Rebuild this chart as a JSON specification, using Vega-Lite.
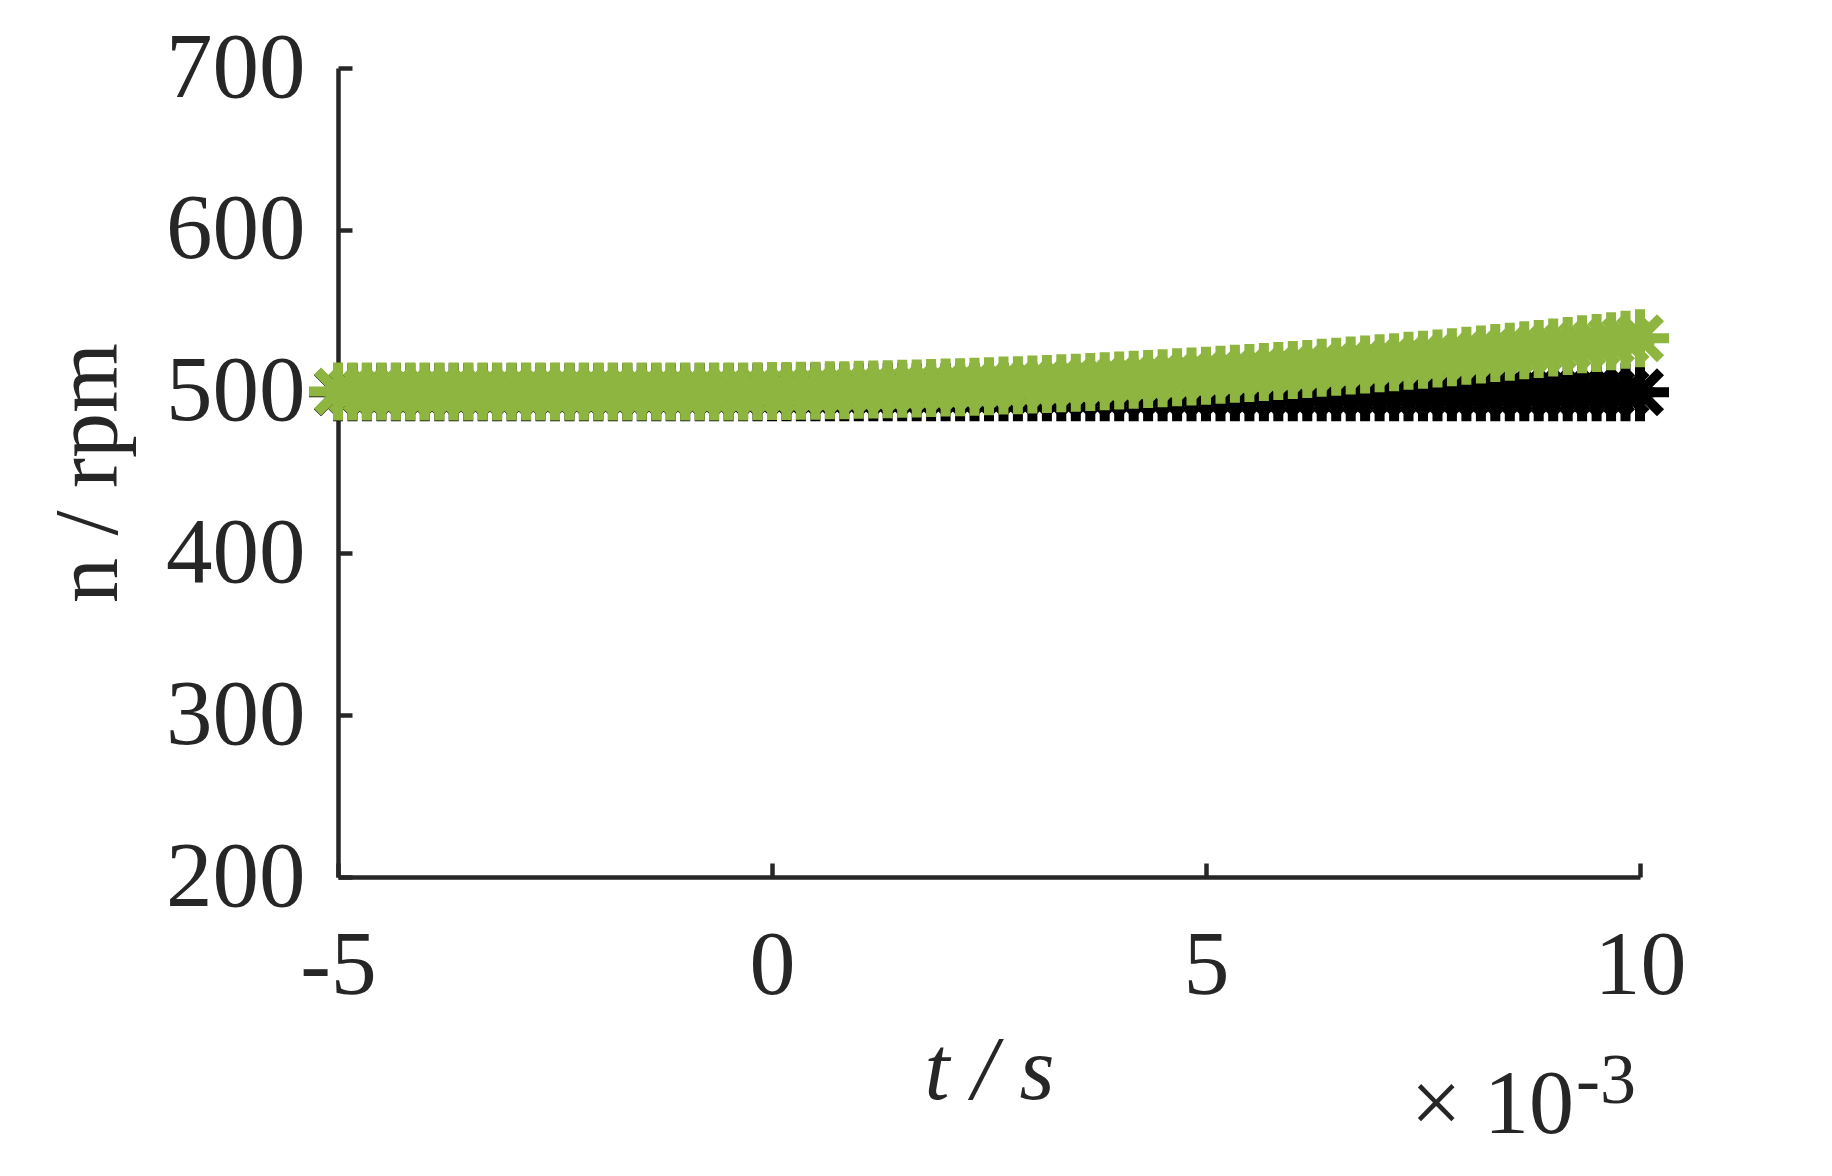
{
  "$schema": "https://vega.github.io/schema/vega-lite/v6.json",
  "width": 1302,
  "height": 809,
  "autosize": {"type": "none"},
  "padding": {"left": 338, "top": 68, "right": 192, "bottom": 299},
  "background": "white",
  "config": {"view": {"stroke": null}},
  "layer": [
    {
      "data": {"name": "speed", "values": [
        {"t": -5, "green": 500.0, "black": 499.6},
        {"t": -4.833, "green": 500.0, "black": 499.6},
        {"t": -4.667, "green": 500.0, "black": 499.6},
        {"t": -4.5, "green": 500.0, "black": 499.6},
        {"t": -4.333, "green": 500.0, "black": 499.6},
        {"t": -4.167, "green": 500.0, "black": 499.6},
        {"t": -4, "green": 500.0, "black": 499.6},
        {"t": -3.833, "green": 500.0, "black": 499.6},
        {"t": -3.667, "green": 500.0, "black": 499.6},
        {"t": -3.5, "green": 500.0, "black": 499.6},
        {"t": -3.333, "green": 500.0, "black": 499.6},
        {"t": -3.167, "green": 500.0, "black": 499.6},
        {"t": -3, "green": 500.0, "black": 499.6},
        {"t": -2.833, "green": 500.0, "black": 499.6},
        {"t": -2.667, "green": 500.0, "black": 499.6},
        {"t": -2.5, "green": 500.0, "black": 499.6},
        {"t": -2.333, "green": 500.0, "black": 499.6},
        {"t": -2.167, "green": 500.0, "black": 499.6},
        {"t": -2, "green": 500.0, "black": 499.6},
        {"t": -1.833, "green": 500.0, "black": 499.6},
        {"t": -1.667, "green": 500.0, "black": 499.6},
        {"t": -1.5, "green": 500.0, "black": 499.6},
        {"t": -1.333, "green": 500.0, "black": 499.6},
        {"t": -1.167, "green": 500.0, "black": 499.6},
        {"t": -1, "green": 500.0, "black": 499.6},
        {"t": -0.833, "green": 500.0, "black": 499.6},
        {"t": -0.667, "green": 500.0, "black": 499.6},
        {"t": -0.5, "green": 500.1, "black": 499.6},
        {"t": -0.333, "green": 500.1, "black": 499.6},
        {"t": -0.167, "green": 500.2, "black": 499.6},
        {"t": 0, "green": 500.3, "black": 499.6},
        {"t": 0.167, "green": 500.4, "black": 499.6},
        {"t": 0.333, "green": 500.5, "black": 499.6},
        {"t": 0.5, "green": 500.6, "black": 499.6},
        {"t": 0.667, "green": 500.8, "black": 499.6},
        {"t": 0.833, "green": 500.9, "black": 499.6},
        {"t": 1, "green": 501.1, "black": 499.6},
        {"t": 1.167, "green": 501.3, "black": 499.6},
        {"t": 1.333, "green": 501.5, "black": 499.6},
        {"t": 1.5, "green": 501.7, "black": 499.6},
        {"t": 1.667, "green": 501.9, "black": 499.6},
        {"t": 1.833, "green": 502.2, "black": 499.6},
        {"t": 2, "green": 502.5, "black": 499.6},
        {"t": 2.167, "green": 502.7, "black": 499.6},
        {"t": 2.333, "green": 503.0, "black": 499.6},
        {"t": 2.5, "green": 503.3, "black": 499.6},
        {"t": 2.667, "green": 503.7, "black": 499.6},
        {"t": 2.833, "green": 504.0, "black": 499.6},
        {"t": 3, "green": 504.4, "black": 499.6},
        {"t": 3.167, "green": 504.7, "black": 499.6},
        {"t": 3.333, "green": 505.1, "black": 499.6},
        {"t": 3.5, "green": 505.5, "black": 499.6},
        {"t": 3.667, "green": 506.0, "black": 499.6},
        {"t": 3.833, "green": 506.4, "black": 499.6},
        {"t": 4, "green": 506.8, "black": 499.6},
        {"t": 4.167, "green": 507.3, "black": 499.6},
        {"t": 4.333, "green": 507.8, "black": 499.6},
        {"t": 4.5, "green": 508.3, "black": 499.6},
        {"t": 4.667, "green": 508.8, "black": 499.6},
        {"t": 4.833, "green": 509.3, "black": 499.6},
        {"t": 5, "green": 509.8, "black": 499.6},
        {"t": 5.167, "green": 510.4, "black": 499.6},
        {"t": 5.333, "green": 511.0, "black": 499.6},
        {"t": 5.5, "green": 511.5, "black": 499.6},
        {"t": 5.667, "green": 512.1, "black": 499.6},
        {"t": 5.833, "green": 512.8, "black": 499.6},
        {"t": 6, "green": 513.4, "black": 499.6},
        {"t": 6.167, "green": 514.0, "black": 499.6},
        {"t": 6.333, "green": 514.7, "black": 499.6},
        {"t": 6.5, "green": 515.4, "black": 499.6},
        {"t": 6.667, "green": 516.1, "black": 499.6},
        {"t": 6.833, "green": 516.8, "black": 499.6},
        {"t": 7, "green": 517.5, "black": 499.6},
        {"t": 7.167, "green": 518.2, "black": 499.6},
        {"t": 7.333, "green": 519.0, "black": 499.6},
        {"t": 7.5, "green": 519.7, "black": 499.6},
        {"t": 7.667, "green": 520.5, "black": 499.6},
        {"t": 7.833, "green": 521.3, "black": 499.6},
        {"t": 8, "green": 522.1, "black": 499.6},
        {"t": 8.167, "green": 522.9, "black": 499.6},
        {"t": 8.333, "green": 523.8, "black": 499.6},
        {"t": 8.5, "green": 524.6, "black": 499.6},
        {"t": 8.667, "green": 525.5, "black": 499.6},
        {"t": 8.833, "green": 526.4, "black": 499.6},
        {"t": 9, "green": 527.3, "black": 499.6},
        {"t": 9.167, "green": 528.2, "black": 499.6},
        {"t": 9.333, "green": 529.2, "black": 499.6},
        {"t": 9.5, "green": 530.1, "black": 499.6},
        {"t": 9.667, "green": 531.1, "black": 499.6},
        {"t": 9.833, "green": 532.0, "black": 499.6},
        {"t": 10, "green": 533.0, "black": 499.6}
      ]},
      "layer": [
        {
          "mark": {"type": "point", "shape": "M-1,0L1,0M0,-1L0,1M-0.707,-0.707L0.707,0.707M-0.707,0.707L0.707,-0.707", "filled": false, "stroke": "#000000", "strokeWidth": 10, "size": 3364, "opacity": 1, "clip": false},
          "encoding": {
            "x": {"field": "t", "type": "quantitative", "scale": {"domain": [-5, 10], "nice": false, "zero": false},
              "axis": {"values": [-5, 0, 5, 10], "title": "t / s", "grid": false,
                "domainColor": "#262626", "domainWidth": 4.5, "tickColor": "#262626", "tickWidth": 4.5, "tickSize": -14,
                "labelFont": "Liberation Serif", "labelFontSize": 92, "labelColor": "#262626", "labelPadding": 57,
                "labelFlush": false, "labelOverlap": false,
                "labelExpr": "replace(format(datum.value, 'd'), '\u2212', '-')",
                "titleFont": "Liberation Serif", "titleFontStyle": "italic", "titleFontWeight": "normal", "titleFontSize": 90,
                "titleColor": "#262626", "titlePadding": 16}},
            "y": {"field": "black", "type": "quantitative", "scale": {"domain": [200, 700], "nice": false, "zero": false},
              "axis": {"values": [200, 300, 400, 500, 600, 700], "title": "n / rpm", "grid": false,
                "domainColor": "#262626", "domainWidth": 4.5, "tickColor": "#262626", "tickWidth": 4.5, "tickSize": -14,
                "labelFont": "Liberation Serif", "labelFontSize": 93, "labelColor": "#262626", "labelPadding": 47,
                "labelFlush": false, "labelOverlap": false,
                "titleFont": "Liberation Serif", "titleFontWeight": "normal", "titleFontSize": 90,
                "titleColor": "#262626", "titlePadding": 30}}
          }
        },
        {
          "mark": {"type": "point", "shape": "M-1,0L1,0M0,-1L0,1M-0.707,-0.707L0.707,0.707M-0.707,0.707L0.707,-0.707", "filled": false, "stroke": "#8db540", "strokeWidth": 10, "size": 3364, "opacity": 1, "clip": false},
          "encoding": {
            "x": {"field": "t", "type": "quantitative"},
            "y": {"field": "green", "type": "quantitative"}
          }
        }
      ]
    },
    {
      "data": {"values": [{"label": "\u00d7 10", "t": 10, "n": 41.8}]},
      "mark": {"type": "text", "font": "Liberation Serif", "fontSize": 90, "color": "#262626", "align": "right", "baseline": "alphabetic", "dx": -66, "clip": false},
      "encoding": {
        "x": {"field": "t", "type": "quantitative"},
        "y": {"field": "n", "type": "quantitative"},
        "text": {"field": "label"}
      }
    },
    {
      "data": {"values": [{"label": "-3", "t": 10, "n": 60.3}]},
      "mark": {"type": "text", "font": "Liberation Serif", "fontSize": 72, "color": "#262626", "align": "right", "baseline": "alphabetic", "dx": -4, "clip": false},
      "encoding": {
        "x": {"field": "t", "type": "quantitative"},
        "y": {"field": "n", "type": "quantitative"},
        "text": {"field": "label"}
      }
    }
  ]
}
